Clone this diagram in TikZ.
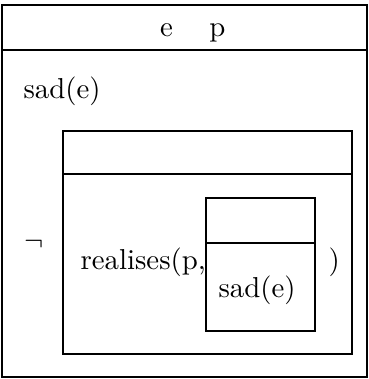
\documentclass[tikz,border=0pt]{standalone}
\usetikzlibrary{positioning}

\begin{document}
\begin{tikzpicture}[x=0.347pt, y=-0.347pt]
\tikzset{
  drsbox/.style={draw, line width=0.7pt},
  cond/.style={inner sep=0pt, anchor=base west},
  referent/.style={inner sep=0pt, anchor=base}
}
  \useasboundingbox (0,0) rectangle (369,379);
  % outer DRS
  \draw[drsbox] (2,5) rectangle (367,377);
  \draw[drsbox] (2,50) -- (367,50);
  \node[referent] (refe) at (166.5,37) {e};
  \node[referent] (refp) at (217.5,37) {p};
  \node[cond] (sadtop) at (23,99) {sad(e)};
  \node[inner sep=0pt] (neg) at (34.5,244) {$\neg$};
  % negated DRS
  \draw[drsbox] (63,131) rectangle (352,354);
  \draw[drsbox] (63,174) -- (352,174);
  \node[cond] (realises) at (80,269) {realises(p,};
  \node[cond] (close) at (328,269) {)};
  % embedded DRS
  \draw[drsbox] (206,198) rectangle (315,331);
  \draw[drsbox] (206,243) -- (315,243);
  \node[cond] (sadin) at (218,297) {sad(e)};
\end{tikzpicture}
\end{document}
